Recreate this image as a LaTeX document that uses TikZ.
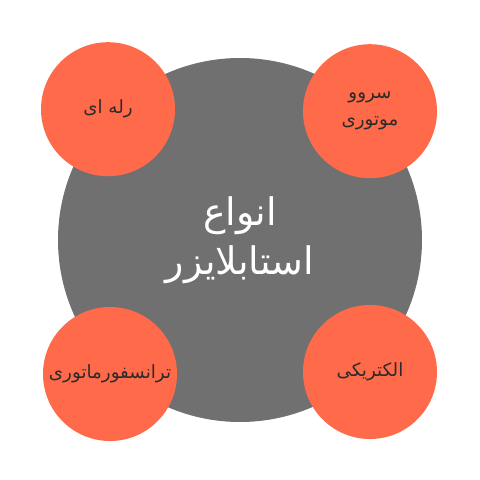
\documentclass[tikz,border=0pt]{standalone}
\usepackage{fontspec}
\TeXXeTstate=1
\newfontfamily\arabicfont[Script=Arabic]{DejaVu Sans}
\usetikzlibrary{positioning}
\definecolor{hubgray}{HTML}{707070}
\definecolor{leaforange}{HTML}{FF6B4A}
\definecolor{leaftext}{HTML}{2B2B2B}

\begin{document}
\begin{tikzpicture}[
  hub/.style={circle, fill=hubgray, minimum size=9.1cm, inner sep=0pt, text=white, align=center, font=\arabicfont\fontsize{27}{35}\selectfont},
  leaf/.style={circle, fill=leaforange, minimum size=3.35cm, inner sep=0pt, text=leaftext, align=center, font=\arabicfont\fontsize{13}{19}\selectfont}
]
\useasboundingbox (0,0) rectangle (12,12);

% central circle and the four types round it
\node[hub] (types) at (6,6) {\beginR انواع\endR\\\beginR استابلایزر\endR};
\node[leaf] (relay) at (2.7,9.27) {\beginR رله ای\endR};
\node[leaf] (servo) at (9.25,9.22) {\beginR سروو\endR\\\beginR موتوری\endR};
\node[leaf] (trans) at (2.75,2.65) {\beginR ترانسفورماتوری\endR};
\node[leaf] (elec) at (9.25,2.7) {\beginR الکتریکی\endR};

\end{tikzpicture}
\end{document}
